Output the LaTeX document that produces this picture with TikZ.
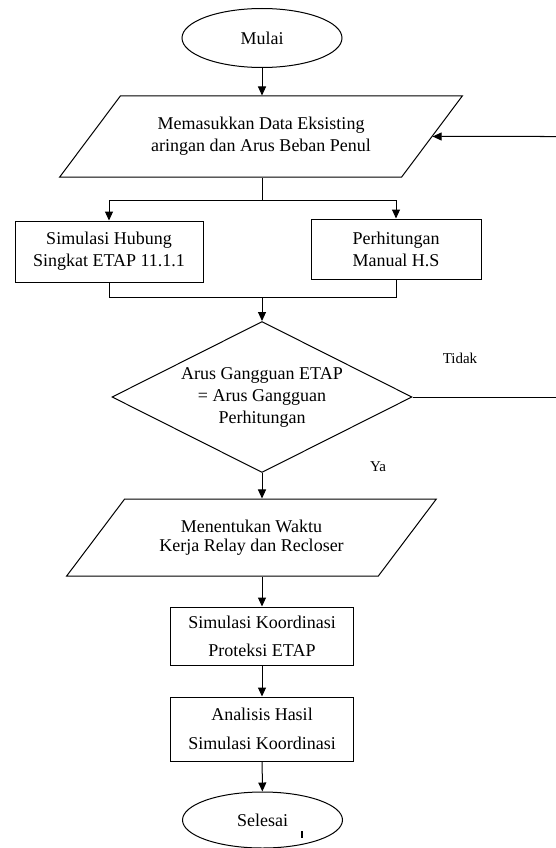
\documentclass[tikz,border=0pt]{standalone}
\usepackage{fontspec}
\setmainfont{Liberation Serif}
\usetikzlibrary{arrows.meta,shapes.geometric}

\begin{document}
\begin{tikzpicture}[x=1pt,y=-1pt,->,>={Triangle[length=9pt,width=8pt]},line width=1pt,
    font=\fontsize{18}{22}\selectfont,
    term/.style={ellipse,draw,minimum width=160pt,minimum height=59pt,inner sep=0pt},
    io/.style={trapezium,trapezium left angle=39,trapezium right angle=141,trapezium stretches=true,draw,align=center,inner sep=0pt},
    proc/.style={rectangle,draw,align=center,inner sep=0pt},
    decide/.style={diamond,draw,aspect=2,align=center,inner sep=0pt,minimum width=300pt,minimum height=151pt},
    lbl/.style={font=\fontsize{15}{18}\selectfont}]

  \useasboundingbox (0,0) rectangle (556,848);

  \node[term] (start) at (262,38) {Mulai};
  \node[io,minimum width=403pt,minimum height=81pt] (input) at (261,136.5) {Memasukkan Data Eksisting\\aringan dan Arus Beban Penul};
  \node[proc,minimum width=188pt,minimum height=61pt] (hs) at (109,251.5) {Simulasi Hubung\\Singkat ETAP 11.1.1};
  \node[proc,minimum width=170pt,minimum height=60pt] (manual) at (396,249) {Perhitungan\\Manual H.S};
  \node[decide] (cek) at (262,397) {Arus Gangguan ETAP\\= Arus Gangguan\\Perhitungan};
  \node[io,trapezium left angle=40,trapezium right angle=140,minimum width=371pt,minimum height=77pt,font=\fontsize{18}{19}\selectfont] (waktu) at (251.5,537.5) {Menentukan Waktu\\Kerja Relay dan Recloser};
  \node[proc,minimum width=183pt,minimum height=58pt,font=\fontsize{18}{28}\selectfont] (koord) at (262,636) {Simulasi Koordinasi\\Proteksi ETAP};
  \node[proc,minimum width=183pt,minimum height=64pt,font=\fontsize{18}{29}\selectfont] (hasil) at (262,729) {Analisis Hasil\\Simulasi Koordinasi};
  \node[term,minimum height=56pt] (end) at (262.5,820) {Selesai};

  \node[lbl] (tidak) at (460,358) {Tidak};
  \node[lbl] (ya) at (378,467) {Ya};

  \coordinate (split) at (262,200);
  \coordinate (join) at (262,297);
  \coordinate (back1) at (556,397);
  \coordinate (back2) at (556,136.5);

  \draw (start) -- (start |- input.north);
  \draw[-] (split |- input.south) -- (split);
  \draw (split) -| (hs);
  \draw (split) -| (manual);
  \draw[-] (hs) |- (join);
  \draw[-] (manual) |- (join);
  \draw (join) -- (cek);
  \draw[-] (cek) -- (back1);
  \draw (back2) -- (input);
  \draw (cek) -- (cek |- waktu.north);
  \draw (koord |- waktu.south) -- (koord);
  \draw (koord) -- (hasil);
  \draw (hasil) -- (end);

  \draw[-,line width=2pt] (302,831) -- (302,838);

\end{tikzpicture}
\end{document}
